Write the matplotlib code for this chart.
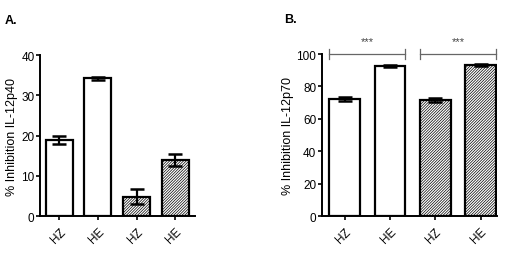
import matplotlib.pyplot as plt
import matplotlib as mpl

plt.rcParams['font.family'] = ['Liberation Sans', 'DejaVu Sans']
mpl.rcParams['hatch.linewidth'] = 0.5
mpl.rcParams['hatch.color'] = '#505050'

# Data
groups = ['HZ', 'HE', 'HZ', 'HE']
p40_mean = [19.0, 34.2, 4.8, 14.0]
p40_err = [1.0, 0.4, 1.8, 1.5]
p70_mean = [72.5, 92.5, 71.8, 93.0]
p70_err = [1.2, 0.6, 1.2, 0.6]
hatched = [False, False, True, True]


def draw_panel(ax, means, errs, ylim, yticks, ylabel, width, xlim):
    x = range(len(means))
    for i in x:
        ax.bar(i, means[i], width=width, color='white', edgecolor='black',
               linewidth=1.6, hatch='/' * 12 if hatched[i] else None, zorder=2)
    ax.errorbar(list(x), means, yerr=errs, fmt='none', ecolor='black',
                elinewidth=1.6, capsize=5, capthick=1.8, zorder=3)
    ax.set_xlim(*xlim)
    ax.set_ylim(*ylim)
    ax.set_yticks(yticks)
    ax.set_xticks(list(x))
    ax.set_xticklabels(groups, rotation=45, ha='right', rotation_mode='anchor',
                       fontsize=8.5)
    ax.tick_params(axis='y', labelsize=8.5, width=1.2, length=3, pad=1)
    ax.tick_params(axis='x', width=1.2, length=3)
    ax.set_ylabel(ylabel, fontsize=9, labelpad=2)
    for s in ['top', 'right']:
        ax.spines[s].set_visible(False)
    for s in ['left', 'bottom']:
        ax.spines[s].set_linewidth(1.4)


fig = plt.figure(figsize=(5.07, 2.55), dpi=100)

ax1 = fig.add_axes([0.079, 0.149, 0.306, 0.631])
draw_panel(ax1, p40_mean, p40_err, (0, 40), [0, 10, 20, 30, 40],
           '% Inhibition IL-12p40', 0.7, (-0.5, 3.52))

ax2 = fig.add_axes([0.635, 0.149, 0.345, 0.635])
draw_panel(ax2, p70_mean, p70_err, (0, 100), [0, 20, 40, 60, 80, 100],
           '% Inhibition IL-12p70', 0.68, (-0.5, 3.36))

# significance brackets
for a, b in [(0, 1), (2, 3)]:
    x0, x1 = a - 0.34, b + 0.34
    ax2.plot([x0, x1], [100, 100], color='#666666', lw=0.9, clip_on=False)
    ax2.plot([x0, x0], [97, 103], color='#666666', lw=0.9, clip_on=False)
    ax2.plot([x1, x1], [97, 103], color='#666666', lw=0.9, clip_on=False)
    ax2.text((x0 + x1) / 2, 105, '***', ha='center', va='bottom',
             fontsize=8, color='#444444')

fig.text(0.01, 0.94, 'A.', fontsize=9, fontweight='bold', va='top')
fig.text(0.56, 0.945, 'B.', fontsize=9, fontweight='bold', va='top')

fig.savefig('out.png', dpi=100)
